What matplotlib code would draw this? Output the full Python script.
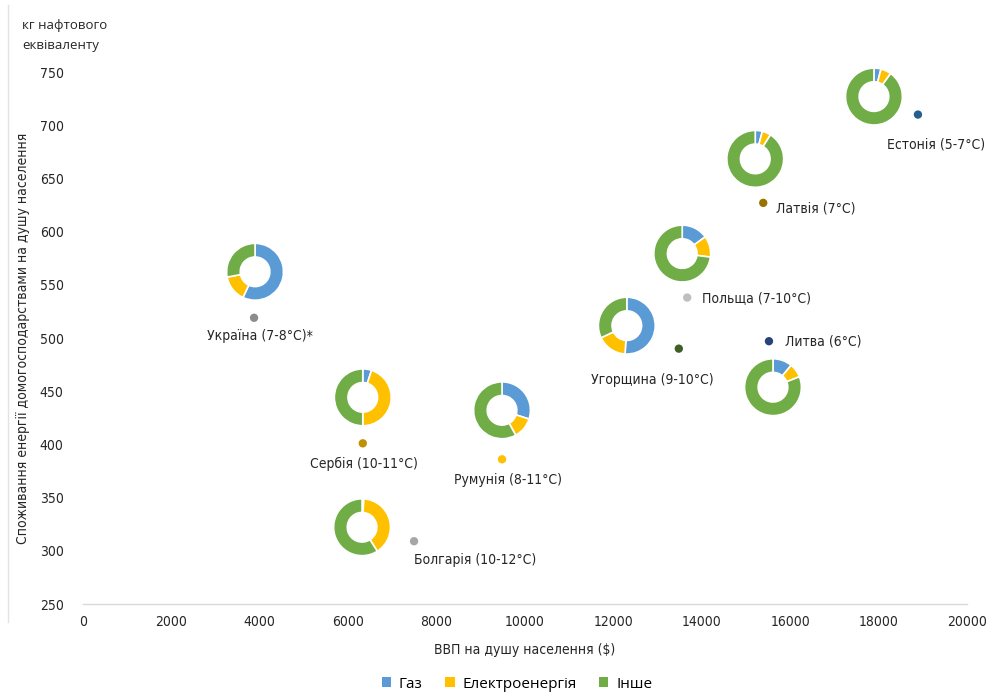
import matplotlib
matplotlib.use("Agg")
import matplotlib.pyplot as plt
from matplotlib import font_manager
from matplotlib.lines import Line2D
from matplotlib.patches import Patch

# GDP per capita ($) and household energy use per capita (kg oil equivalent)
countries = ["Україна (7-8°C)*", "Сербія (10-11°C)", "Болгарія (10-12°C)",
             "Румунія (8-11°C)", "Угорщина (9-10°C)", "Польща (7-10°C)",
             "Литва (6°C)", "Латвія (7°C)", "Естонія (5-7°C)"]
gdp = [3870, 6330, 7490, 9480, 13480, 13670, 15520, 15390, 18890]
energy = [519, 401, 309, 386, 490, 538, 497, 627, 710]

# Structure of household consumption, % (gas, electricity, other)
gas_share = [57, 5, 1, 30, 51, 15, 11, 4, 4]
elec_share = [15, 45, 40, 12, 17, 12, 8, 5, 6]
other_share = [28, 50, 59, 58, 32, 73, 81, 91, 90]

legend_labels = ["Газ", "Електроенергія", "Інше"]
x_ticks = list(range(0, 20001, 2000))
y_ticks = list(range(250, 751, 50))

dot_colors = ["#8c8c8c", "#bf9000", "#a6a6a6", "#ffc000", "#3f5f24",
              "#bfbfbf", "#264478", "#997300", "#255e91"]
seg_colors = ["#5b9bd5", "#ffc000", "#70ad47"]

# donut centre offsets from each dot, pixels (right, down)
donut_off = [(1, -46), (0, -46), (-52, -14), (0, -49), (-52, -23),
             (-5, -44), (4, 46), (-8, -44), (-44, -18)]
# label offsets from each dot, pixels (right, down) and alignment
label_off = [(6, 18, "center"), (1, 21, "center"), (0, 19, "left"),
             (6, 21, "center"), (-27, 31, "center"), (15, 0, "left"),
             (16, 0, "left"), (13, 6, "left"), (67, 30, "right")]

# pick a narrow sans face for the chart text
available = {(f.name, f.stretch) for f in font_manager.fontManager.ttflist}
if ("DejaVu Sans", "condensed") in available or ("DejaVu Sans", "semi-condensed") in available:
    narrow = dict(family="DejaVu Sans", stretch="condensed")
    nsize = 10
elif any(n == "Liberation Sans Narrow" for n, _ in available):
    narrow = dict(family="Liberation Sans Narrow")
    nsize = 11
else:
    narrow = dict(family="Liberation Sans")
    nsize = 9.5

W, H, DPI = 988, 693, 100
fig = plt.figure(figsize=(W / DPI, H / DPI), dpi=DPI)
ax = fig.add_axes([83 / W, 1 - 604 / H, (967 - 83) / W, (604 - 72) / H])

text_font = ["Open Sans", "DejaVu Sans"]
ink = "#262626"

ax.set_xlim(0, 20000)
ax.set_ylim(250, 750)
ax.set_xticks(x_ticks)
ax.set_yticks(y_ticks)
ax.set_xticklabels([str(v) for v in x_ticks], fontsize=nsize, color=ink, **narrow)
ax.set_yticklabels([str(v) for v in y_ticks], fontsize=nsize, color=ink, **narrow)
ax.tick_params(length=0, pad=8)
ax.tick_params(axis="y", pad=14)
for side in ["top", "right", "left"]:
    ax.spines[side].set_visible(False)
ax.spines["bottom"].set_color("#d9d9d9")
ax.spines["bottom"].set_linewidth(1.0)

ax.set_xlabel("ВВП на душу населення ($)", fontsize=nsize, color=ink, **narrow)
ax.xaxis.set_label_coords(0.5, -(643 - 604) / (604 - 72))
ax.set_ylabel("Споживання енергії домогосподарствами на душу населення",
              fontsize=nsize, color=ink, **narrow)
ax.yaxis.set_label_coords(-(83 - 30) / (967 - 83), 0.5)

fig.text(22 / W, 1 - 35 / H, "кг нафтового\nеквіваленту", fontsize=9.5,
         family=text_font, va="center", ha="left", linespacing=1.7, color=ink)

# faint frame line on the left edge
fig.add_artist(Line2D([8 / W, 8 / W], [1 - 5 / H, 1 - 622 / H],
                      color="#e3e3e3", lw=1, transform=fig.transFigure))

ax.scatter(gdp, energy, s=36, c=dot_colors, zorder=3, linewidths=0)

fig.canvas.draw()
r = 29
for i in range(len(countries)):
    px, py = ax.transData.transform((gdp[i], energy[i]))
    dx, dy = donut_off[i]
    cx, cy = px + dx, py - dy
    dax = fig.add_axes([(cx - r) / W, (cy - r) / H, 2 * r / W, 2 * r / H])
    dax.pie([gas_share[i], elec_share[i], other_share[i]], colors=seg_colors,
            startangle=90, counterclock=False, radius=1.0,
            wedgeprops=dict(width=0.48, edgecolor="white", linewidth=1.2))
    dax.set_aspect("equal")
    dax.set_xlim(-1.02, 1.02)
    dax.set_ylim(-1.02, 1.02)
    dax.axis("off")

    lx, ly, ha = label_off[i]
    ax.annotate(countries[i], (gdp[i], energy[i]), xytext=(lx, -ly),
                textcoords="offset pixels", ha=ha, va="center",
                fontsize=nsize, color=ink, **narrow)

handles = [Patch(facecolor=c, edgecolor="none") for c in seg_colors]
fig.legend(handles, legend_labels, loc="center", bbox_to_anchor=(517 / W, 1 - 684 / H),
           ncol=3, frameon=False, handlelength=0.6, handleheight=0.6,
           handletextpad=0.5, columnspacing=1.5,
           prop={"family": text_font, "size": 11})

fig.savefig("out.png", dpi=DPI)
